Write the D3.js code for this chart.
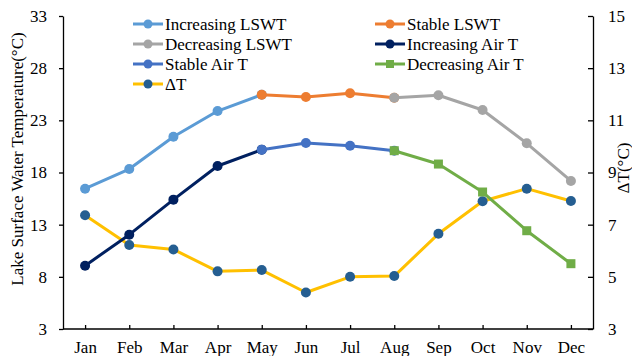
<!DOCTYPE html>
<html>
<head>
<meta charset="utf-8">
<script src="https://cdn.jsdelivr.net/npm/d3@7"></script>
</head>
<body style="margin:0; background:#fff">
<svg id="chart" width="632" height="356" style="display:block"></svg>
<script>
// Months on the x axis
const months = ["Jan","Feb","Mar","Apr","May","Jun","Jul","Aug","Sep","Oct","Nov","Dec"];

// Lake surface water temperature segments (°C), left axis
const increasingLSWT = [16.45, 18.33, 21.43, 23.89, 25.46, null, null, null, null, null, null, null];
const stableLSWT     = [null, null, null, null, 25.46, 25.24, 25.59, 25.17, null, null, null, null];
const decreasingLSWT = [null, null, null, null, null, null, null, 25.17, 25.40, 23.99, 20.80, 17.19];

// Air temperature segments (°C), left axis
const increasingAirT = [9.07, 12.04, 15.40, 18.62, 20.19, null, null, null, null, null, null, null];
const stableAirT     = [null, null, null, null, 20.19, 20.83, 20.57, 20.09, null, null, null, null];
const decreasingAirT = [null, null, null, null, null, null, null, 20.09, 18.81, 16.13, 12.42, 9.26];

// Difference LSWT - air temperature (°C), right axis
const deltaT = [7.36, 6.22, 6.05, 5.21, 5.26, 4.40, 5.00, 5.03, 6.65, 7.90, 8.38, 7.91];

// Axis ticks
const leftTicks  = [3, 8, 13, 18, 23, 28, 33];
const rightTicks = [3, 5, 7, 9, 11, 13, 15];

// Legend columns
const legendLeft = ["Increasing LSWT", "Decreasing LSWT", "Stable Air T", "ΔT"];
const legendRight = ["Stable LSWT", "Increasing Air T", "Decreasing Air T"];

const FONT = '"Liberation Serif"';
const fontSize = 17;
const svg = d3.select("#chart");
const plot = { left: 63, right: 593, top: 16, bottom: 329 };

const x = d3.scalePoint().domain(months).range([plot.left, plot.right]).padding(0.5);
const yL = d3.scaleLinear().domain([3, 33]).range([plot.bottom, plot.top]);
const yR = d3.scaleLinear().domain([3, 15]).range([plot.bottom, plot.top]);

const series = [
  { name: "ΔT", values: deltaT, scale: yR, line: "#FFC000", marker: "#255E91", shape: "circle" },
  { name: "Increasing LSWT", values: increasingLSWT, scale: yL, line: "#5B9BD5", marker: "#5B9BD5", shape: "circle" },
  { name: "Stable LSWT", values: stableLSWT, scale: yL, line: "#ED7D31", marker: "#ED7D31", shape: "circle" },
  { name: "Decreasing LSWT", values: decreasingLSWT, scale: yL, line: "#A5A5A5", marker: "#A5A5A5", shape: "circle" },
  { name: "Increasing Air T", values: increasingAirT, scale: yL, line: "#002060", marker: "#002060", shape: "circle" },
  { name: "Stable Air T", values: stableAirT, scale: yL, line: "#4472C4", marker: "#4472C4", shape: "circle" },
  { name: "Decreasing Air T", values: decreasingAirT, scale: yL, line: "#70AD47", marker: "#70AD47", shape: "square" }
];

function styleText(sel) {
  return sel.style("font-family", FONT).style("font-size", fontSize + "px").attr("fill", "#000");
}

function drawMarker(g, shape, cx, cy, color, r) {
  if (shape === "square") {
    g.append("rect").attr("x", cx - r).attr("y", cy - r)
      .attr("width", 2 * r).attr("height", 2 * r).attr("fill", color);
  } else {
    g.append("circle").attr("cx", cx).attr("cy", cy).attr("r", r).attr("fill", color);
  }
}

function draw() {
  svg.selectAll("*").remove();

  // Axes
  const axL = svg.append("g").attr("transform", `translate(${plot.left},0)`)
    .call(d3.axisLeft(yL).tickValues(leftTicks).tickSize(4).tickPadding(12).tickSizeOuter(0));
  const axR = svg.append("g").attr("transform", `translate(${plot.right},0)`)
    .call(d3.axisRight(yR).tickValues(rightTicks).tickSize(-5).tickPadding(15).tickSizeOuter(0));
  const axB = svg.append("g").attr("transform", `translate(0,${plot.bottom})`)
    .call(d3.axisBottom(x).tickSize(-4).tickPadding(12).tickSizeOuter(0));

  [axL, axR, axB].forEach(g => {
    g.select(".domain").attr("stroke", "#000").attr("stroke-width", 1.3);
    g.selectAll(".tick line").attr("stroke", "#000").attr("stroke-width", 1.3);
    styleText(g.selectAll(".tick text"));
  });
  // Horizontal axis spans the whole plot width
  axB.select(".domain").attr("d", `M${plot.left},0H${plot.right}`);

  // Axis titles
  styleText(svg.append("text"))
    .attr("transform", "translate(17,159) rotate(-90)")
    .attr("text-anchor", "middle").attr("dominant-baseline", "central")
    .text("Lake Surface Water Temperature(°C)");
  styleText(svg.append("text"))
    .attr("transform", "translate(623,168) rotate(-90)")
    .attr("text-anchor", "middle").attr("dominant-baseline", "central")
    .text("ΔT(°C)");

  // Series lines with markers
  series.forEach(s => {
    const pts = months.map((m, i) => ({ m, v: s.values[i] })).filter(d => d.v !== null);
    const line = d3.line().x(d => x(d.m)).y(d => s.scale(d.v));
    const g = svg.append("g");
    g.append("path").datum(pts).attr("d", line)
      .attr("fill", "none").attr("stroke", s.line).attr("stroke-width", 3)
      .attr("stroke-linejoin", "round");
    pts.forEach(d => drawMarker(g, s.shape, x(d.m), s.scale(d.v), s.marker, s.shape === "square" ? 4.5 : 5));
  });

  // Legend, two columns
  const rowY = [24, 44, 64, 84];
  function drawLegend(names, x0) {
    names.forEach((n, i) => {
      const s = series.find(d => d.name === n);
      const g = svg.append("g").attr("transform", `translate(${x0},${rowY[i]})`);
      g.append("line").attr("x1", 0).attr("x2", 30).attr("y1", 0).attr("y2", 0)
        .attr("stroke", s.line).attr("stroke-width", 3);
      drawMarker(g, s.shape, 15, 0, s.marker, s.shape === "square" ? 4 : 4.5);
      styleText(g.append("text")).attr("x", 32).attr("y", 0)
        .attr("dominant-baseline", "central").text(n);
    });
  }
  drawLegend(legendLeft, 133);
  drawLegend(legendRight, 375);
}

draw();
// Redraw once the serif face is ready so every label picks it up
if (document.fonts && document.fonts.load) {
  document.fonts.load(fontSize + "px " + FONT).then(draw).catch(() => {});
}
</script>
</body>
</html>
